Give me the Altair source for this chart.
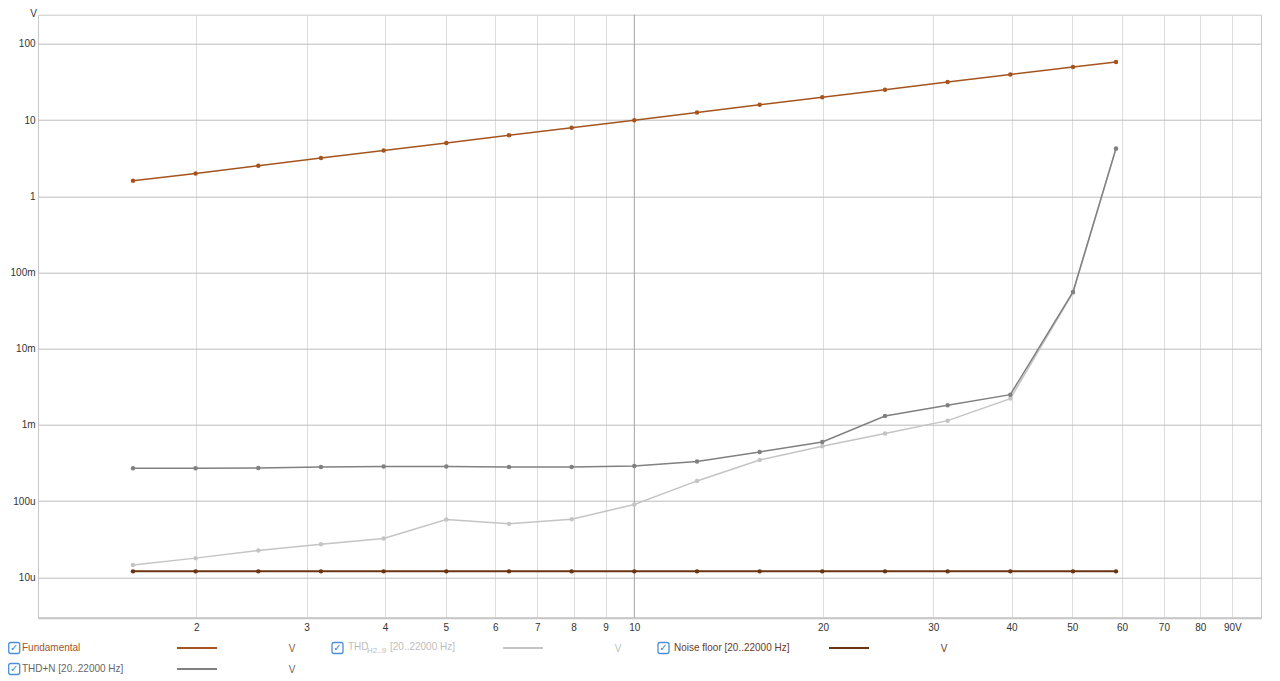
import altair as alt
import pandas as pd
import math

# ---- data ----
x_volts = [1.585, 1.995, 2.512, 3.162, 3.981, 5.012, 6.310, 7.943, 10.0,
           12.59, 15.85, 19.95, 25.12, 31.62, 39.81, 50.12, 58.7]
fundamental = [1.60, 2.00, 2.52, 3.18, 4.00, 5.02, 6.33, 7.95, 10.0,
               12.6, 15.9, 20.0, 25.1, 31.7, 39.8, 50.0, 57.8]
thd_n = [270.7e-6, 270.7e-6, 272.8e-6, 281e-6, 285e-6, 285e-6, 281e-6, 281e-6, 290e-6,
         331e-6, 443e-6, 598e-6, 1.31e-3, 1.81e-3, 2.50e-3, 55.8e-3, 4.26]
thd = [14.5e-6, 17.9e-6, 22.6e-6, 27.3e-6, 32.4e-6, 57.6e-6, 50.4e-6, 58.1e-6, 90.5e-6,
       184.5e-6, 348e-6, 526e-6, 771e-6, 1.14e-3, 2.22e-3, 54.5e-3, 4.2]
noise = [12.0e-6, 12.0e-6, 12.0e-6, 12.0e-6, 12.0e-6, 12.0e-6, 12.0e-6, 12.0e-6, 12.0e-6,
         12.0e-6, 12.0e-6, 12.0e-6, 12.0e-6, 12.0e-6, 12.0e-6, 12.0e-6, 12.0e-6]

series_names = ["THD", "THD+N", "Noise floor", "Fundamental"]
series_values = [thd, thd_n, noise, fundamental]
series_colors = ["#c4c4c4", "#808080", "#6b3410", "#a5541f"]
series_widths = [1.5, 1.5, 2, 1.5]

x_ticks = [2, 3, 4, 5, 6, 7, 8, 9, 10, 20, 30, 40, 50, 60, 70, 80, 90]
x_tick_labels = ["2", "3", "4", "5", "6", "7", "8", "9", "10", "20", "30", "40",
                 "50", "60", "70", "80", "90V"]
y_ticks = [1e-5, 1e-4, 1e-3, 1e-2, 1e-1, 1, 10, 100]
y_tick_labels = ["10u", "100u", "1m", "10m", "100m", "1", "10", "100"]
emphasis_x = [10]

# legend items: (label, text colour, line colour, row, column)
legend_items = [
    ("Fundamental", "#a0552a", "#a5541f", 0, 0),
    ("THD", "#bdbdbd", "#c4c4c4", 0, 1),
    ("Noise floor [20..22000 Hz]", "#6b3a1e", "#6b3410", 0, 2),
    ("THD+N [20..22000 Hz]", "#666666", "#808080", 1, 0),
]

rows = []
for name, vals in zip(series_names, series_values):
    for xv, yv in zip(x_volts, vals):
        rows.append({"x": xv, "v": yv, "series": name})
df = pd.DataFrame(rows)


def ternary(ticks, labels, expr):
    out = "''"
    for t, l in zip(ticks, labels):
        out = f"({expr}=={t}) ? '{l}' : {out}"
    return out


x_label_expr = ternary(x_ticks, x_tick_labels, "round(datum.value)")
y_label_expr = ternary([round(math.log10(t)) for t in y_ticks], y_tick_labels,
                       "round(log(datum.value)/LN10)")

W, H = 1223, 603
FONT = "Liberation Sans"

xscale = alt.Scale(type="log", domain=[1.118, 100], nice=False)
yscale = alt.Scale(type="log", domain=[2.96e-6, 242], nice=False)

x_enc = alt.X("x:Q", scale=xscale,
              axis=alt.Axis(values=x_ticks, labelExpr=x_label_expr, title=None,
                            grid=True, gridColor="#dcdcdc", gridWidth=1,
                            domain=True, domainColor="#c6c6c6", domainWidth=2,
                            ticks=False, labelPadding=5, labelFlush=False,
                            labelOverlap=False))
y_enc = alt.Y("v:Q", scale=yscale,
              axis=alt.Axis(values=y_ticks, labelExpr=y_label_expr, title="V",
                            titleAngle=0, titleX=-5, titleY=-6.2, titleAlign="center",
                            titleBaseline="top", titleFont=FONT, titleFontSize=10,
                            titleFontWeight="normal", titleColor="#333",
                            grid=True, gridColor="#bdbdbd", gridWidth=1,
                            domain=False, ticks=False, labelPadding=3,
                            labelOverlap=False, labelFlush=False))

layers = []
# emphasised gridline at 10
layers.append(
    alt.Chart(pd.DataFrame({"x": emphasis_x})).mark_rule(color="#aaaaaa", strokeWidth=1)
    .encode(x=alt.X("x:Q", scale=xscale))
)
for name, col, sw in zip(series_names, series_colors, series_widths):
    layers.append(
        alt.Chart(df[df.series == name]).mark_line(
            color=col, strokeWidth=sw,
            point=alt.OverlayMarkDef(filled=True, color=col, size=20, opacity=1))
        .encode(x=x_enc, y=y_enc)
    )

# ---- legend below the plot (pixel positions relative to plot origin) ----
one = pd.DataFrame({"a": [0]})
row_y = [633.3, 654.3]
col_x = [-32, 294, 620]
for label, tcol, lcol, r, c in legend_items:
    y0 = row_y[r]
    x0 = col_x[c]
    bx = max(x0, -29.3)
    # checkbox
    layers.append(alt.Chart(one).mark_rect(fill="white", stroke="#4a8fd8", strokeWidth=1.3,
                                           cornerRadius=2)
                  .encode(x=alt.value(bx), x2=alt.value(bx + 11),
                          y=alt.value(y0 - 5.5), y2=alt.value(y0 + 5.5)))
    layers.append(alt.Chart(one).mark_text(text="✓", font="DejaVu Sans", fontSize=10,
                                           color="#3a7fd0", fontWeight="bold",
                                           align="center", baseline="middle")
                  .encode(x=alt.value(bx + 5.5), y=alt.value(y0 + 0.5)))
    if label == "THD":
        layers.append(alt.Chart(one).mark_text(text="THD", font=FONT, fontSize=10, color=tcol,
                                               align="left", baseline="middle")
                      .encode(x=alt.value(x0 + 16), y=alt.value(y0 - 1)))
        layers.append(alt.Chart(one).mark_text(text="H2..9", font=FONT, fontSize=8, color=tcol,
                                               align="left", baseline="middle")
                      .encode(x=alt.value(x0 + 35), y=alt.value(y0 + 3)))
        layers.append(alt.Chart(one).mark_text(text="[20..22000 Hz]", font=FONT, fontSize=10,
                                               color=tcol, align="left", baseline="middle")
                      .encode(x=alt.value(x0 + 58), y=alt.value(y0 - 1)))
    else:
        layers.append(alt.Chart(one).mark_text(text=label, font=FONT, fontSize=10, color=tcol,
                                               align="left", baseline="middle")
                      .encode(x=alt.value(x0 + 16), y=alt.value(y0)))
    # sample line
    layers.append(alt.Chart(one).mark_rule(color=lcol, strokeWidth=2)
                  .encode(x=alt.value(x0 + 171), x2=alt.value(x0 + 211),
                          y=alt.value(y0)))
    # unit
    layers.append(alt.Chart(one).mark_text(text="V", font=FONT, fontSize=10, color=tcol,
                                           align="center", baseline="middle")
                  .encode(x=alt.value(x0 + 286), y=alt.value(y0 + 1)))

chart = alt.layer(*layers).properties(
    width=W, height=H,
    autosize=alt.AutoSizeParams(type="none"),
    padding={"left": 30, "top": 6.7, "right": 11, "bottom": 62},
).configure_view(stroke="#c8c8c8", strokeWidth=1).configure_axis(
    labelFont=FONT, labelFontSize=10, labelColor="#333333"
)

chart.save("out.html", embed_options={"renderer": "svg", "actions": False})
